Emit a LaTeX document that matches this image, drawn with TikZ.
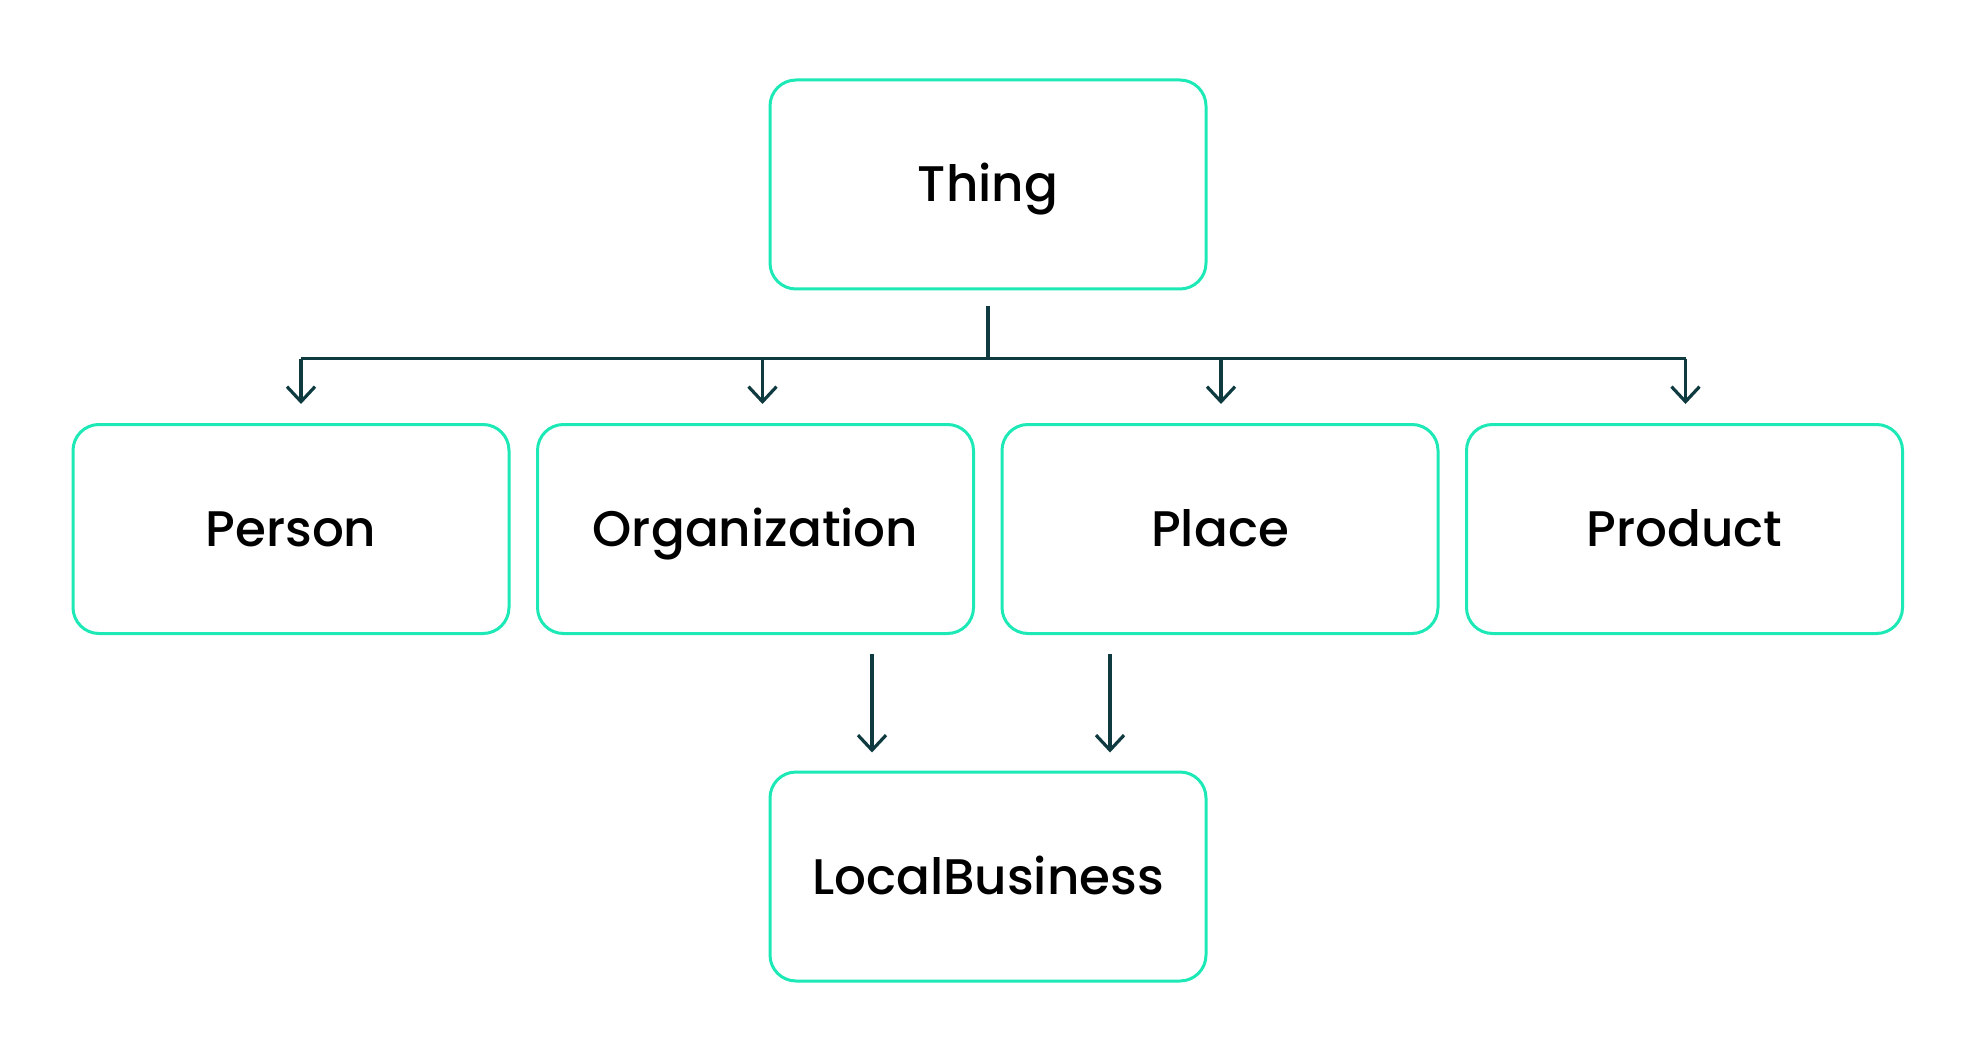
\documentclass[tikz,border=0pt]{standalone}
\usepackage{fontspec}
\setmainfont{Poppins Medium}
\usetikzlibrary{arrows.meta,calc}
\definecolor{mint}{HTML}{1DE9B6}
\definecolor{ink}{HTML}{0E3A40}
\begin{document}
\begin{tikzpicture}[x=0.5pt,y=-0.5pt,
  box/.style={draw=mint,line width=1.5pt,rounded corners=13pt,minimum width=218pt,minimum height=104.5pt,inner sep=0pt,font=\fontsize{25}{30}\selectfont,text=black,text height=17.5pt,text depth=0pt},
  conn/.style={draw=ink,line width=1.6pt},
  arr/.style={conn,-{Straight Barb[length=7.5pt,width=14pt,line width=1.6pt]}}]
\useasboundingbox (0,0) rectangle (1976,1059);
\node[box] (thing) at (988,184.5) {Thing};
\node[box] (person) at (291,529) {Person};
\node[box] (org) at (755.5,529) {Organization};
\node[box] (place) at (1220,529) {Place};
\node[box] (product) at (1684.5,529) {Product};
\node[box] (lb) at (988,876.5) {LocalBusiness};
% bus
\coordinate (stub) at ($(thing.south)+(0,16)$);
\coordinate (hub) at ($(thing.south)+(0,68)$);
\coordinate (t1) at ($(person.north)+(10,-19)$);
\coordinate (t2) at ($(org.north)+(7,-19)$);
\coordinate (t3) at ($(place.north)+(1,-19)$);
\coordinate (t4) at ($(product.north)+(1,-19)$);
\draw[conn] (stub) -- (hub);
\draw[conn] (t1 |- hub) -- (t4 |- hub);
\draw[arr] (t1 |- hub) -- (t1);
\draw[arr] (t2 |- hub) -- (t2);
\draw[arr] (t3 |- hub) -- (t3);
\draw[arr] (t4 |- hub) -- (t4);
% lower arrows
\coordinate (s1) at ($(org.south)+(116.5,19)$);
\coordinate (s2) at ($(place.south)+(-110,19)$);
\coordinate (lbtop) at ($(lb.north)+(0,-18)$);
\draw[arr] (s1) -- (s1 |- lbtop);
\draw[arr] (s2) -- (s2 |- lbtop);
\end{tikzpicture}
\end{document}
